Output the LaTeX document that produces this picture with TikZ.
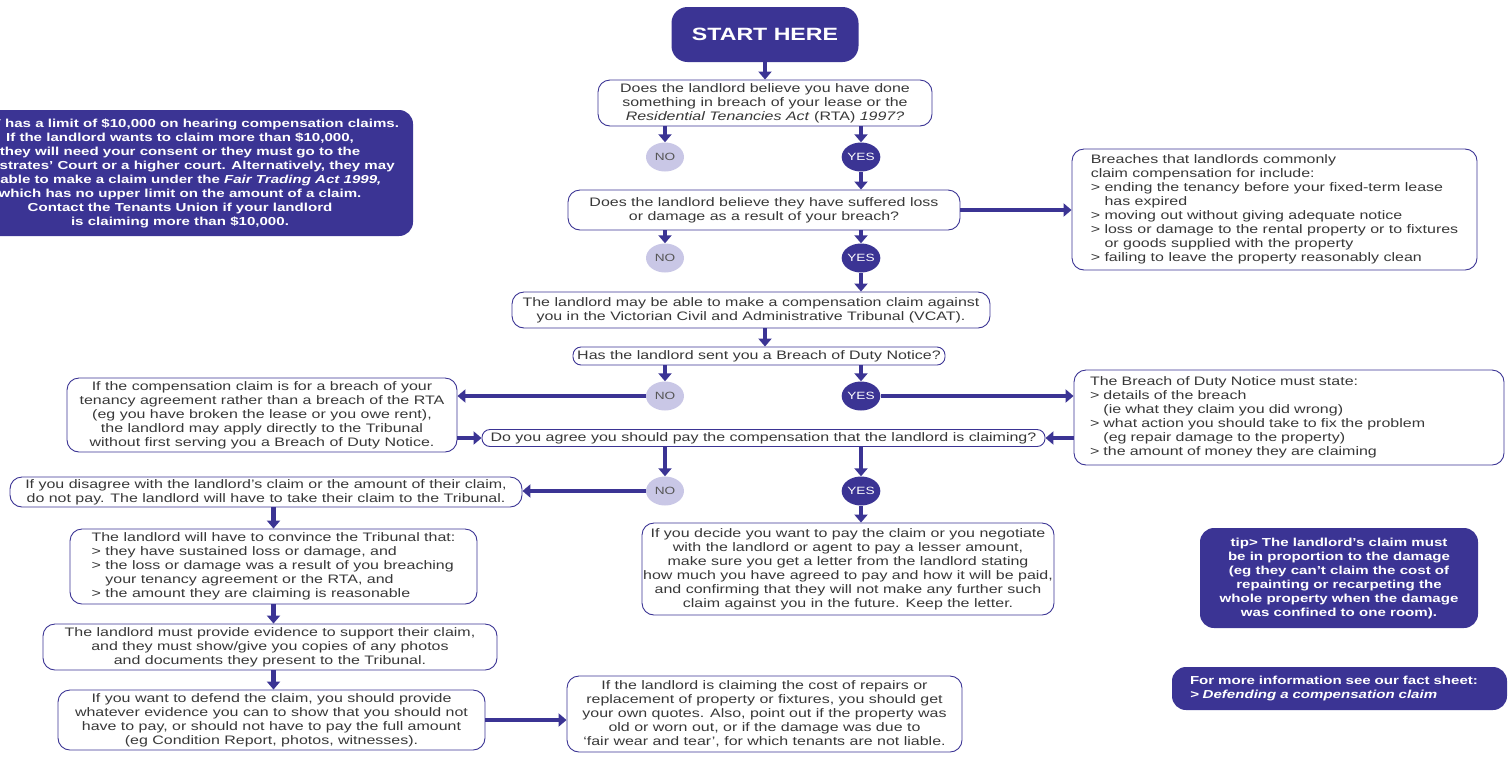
\documentclass[tikz,border=0pt]{standalone}
\usepackage{fontspec}
\setmainfont[FakeStretch=1.3]{Liberation Sans}
\usetikzlibrary{arrows.meta,shapes.geometric}
\definecolor{navy}{HTML}{3B3494}
\definecolor{lilac}{HTML}{C9C7E6}
\definecolor{ink}{HTML}{383838}
\newcommand{\indt}{\hphantom{>\ }}

\begin{document}
\begin{tikzpicture}[x=1pt,y=-1pt]
			\tikzstyle{box}= [
				rectangle, rounded corners = 12pt, draw = navy, line width = 0.9pt,
				fill = white, text = ink, inner sep = 0pt, align = center,
				font = \fontsize{12.3}{14}\selectfont
			]
			\tikzstyle{dark}= [
				rectangle, rounded corners = 14pt, fill = navy, text = white,
				inner sep = 0pt, align = center, font = \fontsize{11.6}{14}\selectfont\bfseries
			]
			\tikzstyle{yes}= [
				ellipse, fill = navy, text = white, inner sep = 0pt,
				minimum width = 38pt, minimum height = 29pt, font = \fontsize{10.5}{11}\selectfont
			]
			\tikzstyle{no}= [yes, fill = lilac, text = ink!85]
			\tikzstyle{arrow}=[-{Triangle[width=13pt,length=8pt]},draw=navy,line width=4.5pt]
			\useasboundingbox (0,0) rectangle (1509,756);
			\clip (0,0) rectangle (1509,756);
			\node[dark, minimum width = 187pt, minimum height = 55pt, rounded corners = 16pt,
				font = \fontsize{17.8}{20}\selectfont\bfseries] (start) at (765,34.5) {START HERE};
			\node[box, minimum width = 334pt, minimum height = 46pt] (q1) at (765,103)
				{Does the landlord believe you have done\\something in breach of your lease or the\\\textit{Residential Tenancies Act} (RTA) \textit{1997?}};
			\node[no] (no1) at (665,157) {NO};
			\node[yes] (yes1) at (861,157) {YES};
			\node[box, minimum width = 392pt, minimum height = 40pt] (q2) at (764,210)
				{Does the landlord believe they have suffered loss\\or damage as a result of your breach?};
			\node[box, align = left, minimum width = 405pt, minimum height = 121pt] (breach) at (1274.5,209.5)
				{Breaches that landlords commonly\\claim compensation for include:\\> ending the tenancy before your fixed-term lease\\\indt has expired\\> moving out without giving adequate notice\\> loss or damage to the rental property or to fixtures\\\indt or goods supplied with the property\\> failing to leave the property reasonably clean};
			\node[no] (no2) at (665,258) {NO};
			\node[yes] (yes2) at (861,258) {YES};
			\node[box, minimum width = 478pt, minimum height = 36pt] (vcat) at (751,310)
				{The landlord may be able to make a compensation claim against\\you in the Victorian Civil and Administrative Tribunal (VCAT).};
			\node[box, minimum width = 372pt, minimum height = 18pt, rounded corners = 8pt] (q3) at (759,356)
				{Has the landlord sent you a Breach of Duty Notice?};
			\node[no] (no3) at (665,396) {NO};
			\node[yes] (yes3) at (861,396) {YES};
			\node[box, minimum width = 390pt, minimum height = 74pt] (rta) at (262,415)
				{If the compensation claim is for a breach of your\\tenancy agreement rather than a breach of the RTA\\(eg you have broken the lease or you owe rent),\\the landlord may apply directly to the Tribunal\\without first serving you a Breach of Duty Notice.};
			\node[box, align = left, text width = 398pt, inner xsep = 16pt, minimum height = 95pt] (notice) at (1289,417.5)
				{The Breach of Duty Notice must state:\\> details of the breach\\\indt (ie what they claim you did wrong)\\> what action you should take to fix the problem\\\indt (eg repair damage to the property)\\> the amount of money they are claiming};
			\node[box, minimum width = 563pt, minimum height = 17pt, rounded corners = 8pt] (q4) at (763.5,438)
				{Do you agree you should pay the compensation that the landlord is claiming?};
			\node[no] (no4) at (665,491) {NO};
			\node[yes] (yes4) at (861,491) {YES};
			\node[box, minimum width = 512pt, minimum height = 30pt] (disagree) at (266,492)
				{If you disagree with the landlord’s claim or the amount of their claim,\\do not pay. The landlord will have to take their claim to the Tribunal.};
			\node[box, align = left, minimum width = 407pt, minimum height = 75pt] (convince) at (273.5,566.5)
				{The landlord will have to convince the Tribunal that:\\> they have sustained loss or damage, and\\> the loss or damage was a result of you breaching\\\indt your tenancy agreement or the RTA, and\\> the amount they are claiming is reasonable};
			\node[box, minimum width = 454pt, minimum height = 46pt] (evidence) at (270,647)
				{The landlord must provide evidence to support their claim,\\and they must show/give you copies of any photos\\and documents they present to the Tribunal.};
			\node[box, minimum width = 427pt, minimum height = 60pt] (defend) at (271.5,720)
				{If you want to defend the claim, you should provide\\whatever evidence you can to show that you should not\\have to pay, or should not have to pay the full amount\\(eg Condition Report, photos, witnesses).};
			\node[box, minimum width = 395pt, minimum height = 76pt] (quotes) at (764.5,714)
				{If the landlord is claiming the cost of repairs or\\replacement of property or fixtures, you should get\\your own quotes. Also, point out if the property was\\old or worn out, or if the damage was due to\\‘fair wear and tear’, for which tenants are not liable.};
			\node[box, minimum width = 412pt, minimum height = 92pt] (pay) at (848,569)
				{If you decide you want to pay the claim or you negotiate\\with the landlord or agent to pay a lesser amount,\\make sure you get a letter from the landlord stating\\how much you have agreed to pay and how it will be paid,\\and confirming that they will not make any further such\\claim against you in the future. Keep the letter.};
			\node[dark, minimum width = 466pt, minimum height = 126pt] (limit) at (180,173)
				{VCAT has a limit of \$10,000 on hearing compensation claims.\\If the landlord wants to claim more than \$10,000,\\they will need your consent or they must go to the\\Magistrates’ Court or a higher court. Alternatively, they may\\be able to make a claim under the \textit{Fair Trading Act 1999,}\\which has no upper limit on the amount of a claim.\\Contact the Tenants Union if your landlord\\is claiming more than \$10,000.};
			\node[dark, minimum width = 278pt, minimum height = 100pt] (tip) at (1339,578)
				{tip> The landlord’s claim must\\be in proportion to the damage\\(eg they can’t claim the cost of\\repainting or recarpeting the\\whole property when the damage\\was confined to one room).};
			\node[dark, align = left, text width = 299pt, inner xsep = 18pt, minimum height = 43pt] (info) at (1339.5,688.5)
				{For more information see our fact sheet:\\\textit{> Defending a compensation claim}};
			\draw (start) to (q1) [arrow];
			\draw (q1.south -| no1) to (no1) [arrow];
			\draw (q1.south -| yes1) to (yes1) [arrow];
			\draw (yes1) to (yes1 |- q2.north) [arrow];
			\draw (q2.east) to (q2.east -| breach.west) [arrow];
			\draw (q2.south -| no2) to (no2) [arrow];
			\draw (q2.south -| yes2) to (yes2) [arrow];
			\draw (yes2) to (yes2 |- vcat.north) [arrow];
			\draw (vcat.south -| start) to (q3.north -| start) [arrow];
			\draw (q3.south -| no3) to (no3) [arrow];
			\draw (q3.south -| yes3) to (yes3) [arrow];
			\draw (no3) to (no3 -| rta.east) [arrow];
			\draw (yes3) to (yes3 -| notice.west) [arrow];
			\draw (q4.west -| rta.east) to (q4.west) [arrow];
			\draw (q4.east -| notice.west) to (q4.east) [arrow];
			\draw (q4.south -| no4) to (no4) [arrow];
			\draw (q4.south -| yes4) to (yes4) [arrow];
			\draw (no4) to (no4 -| disagree.east) [arrow];
			\draw (yes4) to (yes4 |- pay.north) [arrow];
			\draw (disagree.south -| convince) to (convince) [arrow];
			\draw (convince) to (evidence.north -| convince) [arrow];
			\draw (evidence.south -| convince) to (defend.north -| convince) [arrow];
			\draw (defend) to (defend -| quotes.west) [arrow];
		\end{tikzpicture}
\end{document}
